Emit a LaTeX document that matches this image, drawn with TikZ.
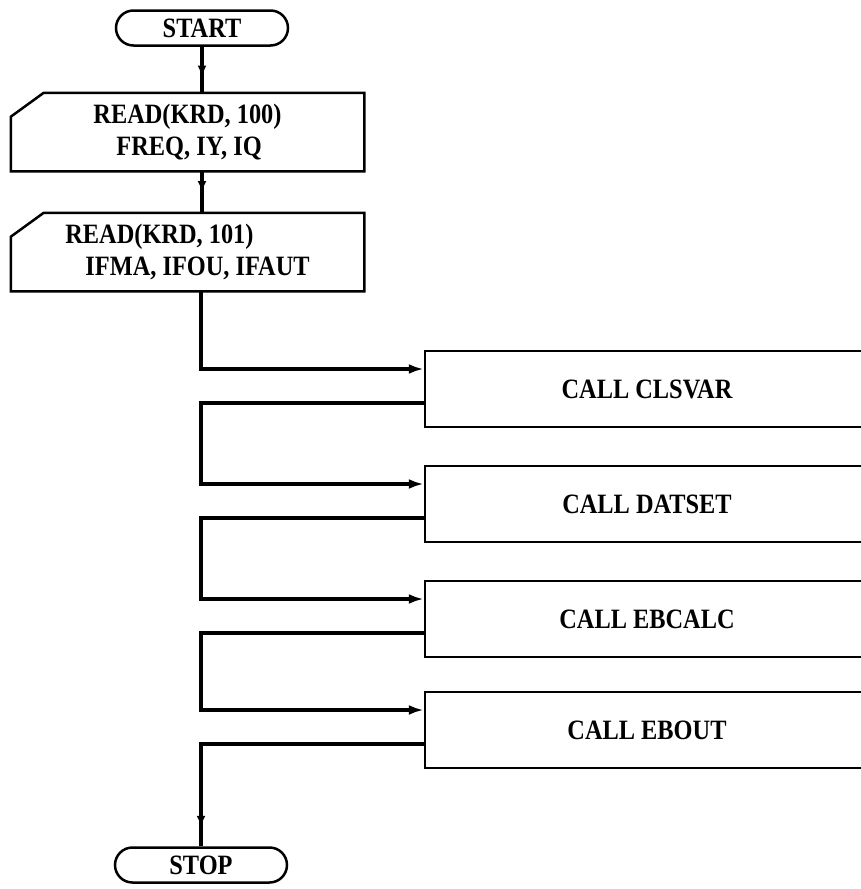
\documentclass[tikz,border=0pt]{standalone}
\usepackage{fontspec}
\newfontfamily\chartfont[FakeStretch=0.87]{Liberation Serif}
\usetikzlibrary{shapes.misc,arrows.meta,decorations.markings}

\begin{document}
\begin{tikzpicture}[
    x=1pt, y=-1pt,
    font=\chartfont\bfseries\fontsize{28}{32}\selectfont,
    line width=2.5pt,
    terminal/.style={draw, rounded rectangle, minimum width=172pt, minimum height=35pt, inner sep=0pt},
    readbox/.style={rectangle, minimum width=351pt, minimum height=76pt, align=left, inner sep=0pt},
    callbox/.style={draw, rectangle, minimum width=444pt, minimum height=76pt},
    link/.style={line width=3.5pt},
    flow/.style={line width=3.5pt, -{Latex[length=15pt,width=10pt]}},
    midarrow/.style={postaction={decorate}, decoration={markings,
        mark=at position #1 with {\arrow{Latex[length=11pt,width=9pt]}}}}
]
    \path[use as bounding box, clip] (0, 0) rectangle (861, 889);

    \node[terminal] (start) at (202, 28) {START};
    \node[readbox] (read1) at (187.5, 132) {READ(KRD, 100)\\\hspace{23pt}FREQ, IY, IQ};
    \node[readbox] (read2) at (187.5, 252) {READ(KRD, 101)\\\hspace{20pt}IFMA, IFOU, IFAUT};
    \foreach \r in {read1, read2} {
        \draw ([yshift=-24pt]\r.north west) -- ([xshift=33pt]\r.north west)
            -- (\r.north east) -- (\r.south east) -- (\r.south west) -- cycle;
    }
    \coordinate (trunk) at (201, 0);
    \foreach \n/\y/\t in {
        1/389/CLSVAR,
        2/504/DATSET,
        3/619/EBCALC,
        4/730/EBOUT
    } {
        \node[callbox] (call\n) at (647, \y) {CALL \t};
        \coordinate (in\n) at ([yshift=20pt]call\n.west);
        \coordinate (out\n) at ([yshift=-14pt]call\n.west);
    }
    \node[terminal] (stop) at (201, 865) {STOP};

    \draw[link, midarrow=0.65] (start.south) -- (start.south |- read1.north);
    \draw[link, midarrow=0.5] (read1.south -| start.south) -- (read2.north -| start.south);
    \draw[flow] (read2.south -| trunk) |- (in1);
    \foreach \a/\b in {1/2, 2/3, 3/4} {
        \draw[flow] (out\a) -- (out\a -| trunk) |- (in\b);
    }
    \draw[link, midarrow=0.94] (out4) -| (stop.north);
\end{tikzpicture}
\end{document}
